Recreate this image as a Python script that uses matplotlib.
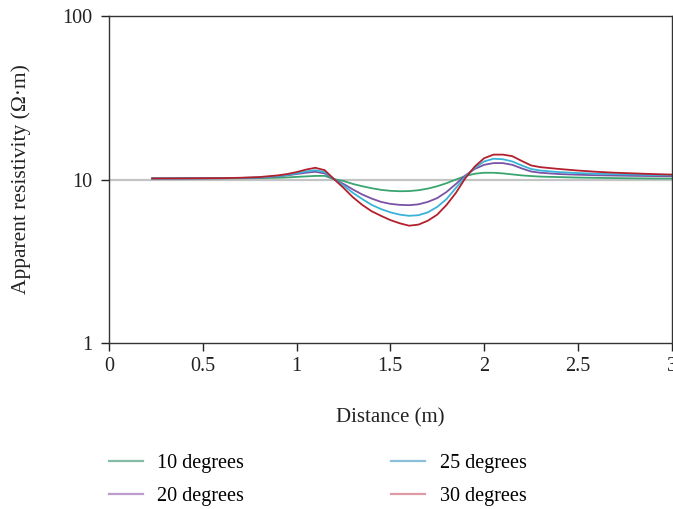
import matplotlib
matplotlib.use("Agg")
import matplotlib.pyplot as plt
from matplotlib.lines import Line2D

distance = [0.23, 0.4, 0.6, 0.7, 0.8, 0.9, 0.95, 1.0, 1.05, 1.1, 1.15, 1.2, 1.25, 1.3,
            1.35, 1.4, 1.45, 1.5, 1.55, 1.6, 1.65, 1.7, 1.75, 1.8, 1.85, 1.9, 1.95, 2.0,
            2.05, 2.1, 2.15, 2.2, 2.25, 2.3, 2.4, 2.5, 2.6, 2.7, 2.8, 2.9, 3.0]

deg10 = [10.15, 10.15, 10.17, 10.18, 10.2, 10.25, 10.3, 10.38, 10.45, 10.52, 10.53, 10.05,
         9.8, 9.4, 9.1, 8.85, 8.65, 8.53, 8.48, 8.5, 8.6, 8.8, 9.1, 9.5, 10.0, 10.5, 10.85,
         11.0, 11.0, 10.9, 10.75, 10.6, 10.5, 10.42, 10.35, 10.28, 10.24, 10.2, 10.17, 10.15, 10.14]
deg20 = [10.15, 10.16, 10.18, 10.21, 10.27, 10.45, 10.6, 10.8, 11.0, 11.15, 10.9, 10.05,
         9.4, 8.7, 8.1, 7.65, 7.3, 7.1, 7.0, 6.97, 7.05, 7.3, 7.7, 8.4, 9.4, 10.6, 11.6,
         12.3, 12.6, 12.6, 12.3, 11.7, 11.2, 11.0, 10.8, 10.7, 10.62, 10.57, 10.53, 10.5, 10.48]
deg25 = [10.15, 10.17, 10.2, 10.23, 10.3, 10.5, 10.65, 10.9, 11.2, 11.4, 11.1, 10.05,
         9.2, 8.3, 7.6, 7.0, 6.6, 6.3, 6.1, 6.0, 6.05, 6.3, 6.8, 7.6, 8.9, 10.4, 11.8,
         12.9, 13.4, 13.3, 12.9, 12.2, 11.6, 11.35, 11.1, 10.95, 10.85, 10.78, 10.72, 10.67, 10.63]
deg30 = [10.15, 10.17, 10.2, 10.25, 10.35, 10.6, 10.8, 11.1, 11.5, 11.8, 11.4, 10.05,
         8.9, 7.8, 7.0, 6.4, 6.0, 5.65, 5.4, 5.22, 5.3, 5.6, 6.1, 7.0, 8.3, 10.2, 12.0,
         13.5, 14.2, 14.2, 13.9, 13.0, 12.2, 11.9, 11.6, 11.35, 11.15, 11.0, 10.9, 10.8, 10.72]

labels = ["10 degrees", "20 degrees", "25 degrees", "30 degrees"]
series = [deg10, deg20, deg25, deg30]
colors = ["#3aa56e", "#7a52a6", "#3ab3d8", "#b3202c"]
legend_colors = ["#86bba5", "#bb9ccb", "#8cc0da", "#dc9aa3"]
xticks = [0, 0.5, 1, 1.5, 2, 2.5, 3]
xticklabels = ["0", "0.5", "1", "1.5", "2", "2.5", "3"]
yticks = [1, 10, 100]
yticklabels = ["1", "10", "100"]

plt.rcParams['font.family'] = ['Liberation Serif', 'DejaVu Serif']
fs = 14.5

fig = plt.figure(figsize=(6.73, 5.09), dpi=100)
ax = fig.add_axes([0.162, 0.326, 0.836, 0.6426])

ax.axhline(10, color="#c4c4c4", lw=1.6, zorder=1)
for ys, c in zip(series, colors):
    ax.plot(distance, ys, color=c, lw=1.3, zorder=2)

ax.set_yscale("log")
ax.set_xlim(0, 3)
ax.set_ylim(1, 100)
ax.set_xticks(xticks)
ax.set_xticklabels(xticklabels)
ax.set_yticks(yticks)
ax.set_yticklabels(yticklabels)
ax.minorticks_off()
ax.tick_params(direction="out", length=6, width=1, colors="#222222", labelsize=fs, pad=4)
ax.tick_params(axis="y", pad=6)
for s in ax.spines.values():
    s.set_color("#333333")
    s.set_linewidth(1.0)

ax.set_xlabel("Distance (m)", fontsize=15, color="#222222")
ax.xaxis.set_label_coords(0.5, -0.199)
ax.set_ylabel("Apparent resistivity (\u03a9\u00b7m)", fontsize=15.5, color="#222222")
ax.yaxis.set_label_coords(-0.139, 0.5)

handles = [Line2D([0], [0], color=c, lw=1.6) for c in legend_colors]
fig.legend(handles, labels, ncol=2, loc="upper left", bbox_to_anchor=(0.150, 0.124),
           frameon=False, fontsize=fs, handlelength=1.7, handletextpad=0.7,
           columnspacing=7.3, labelspacing=0.67, borderaxespad=0)

fig.savefig("out.png", dpi=100)
